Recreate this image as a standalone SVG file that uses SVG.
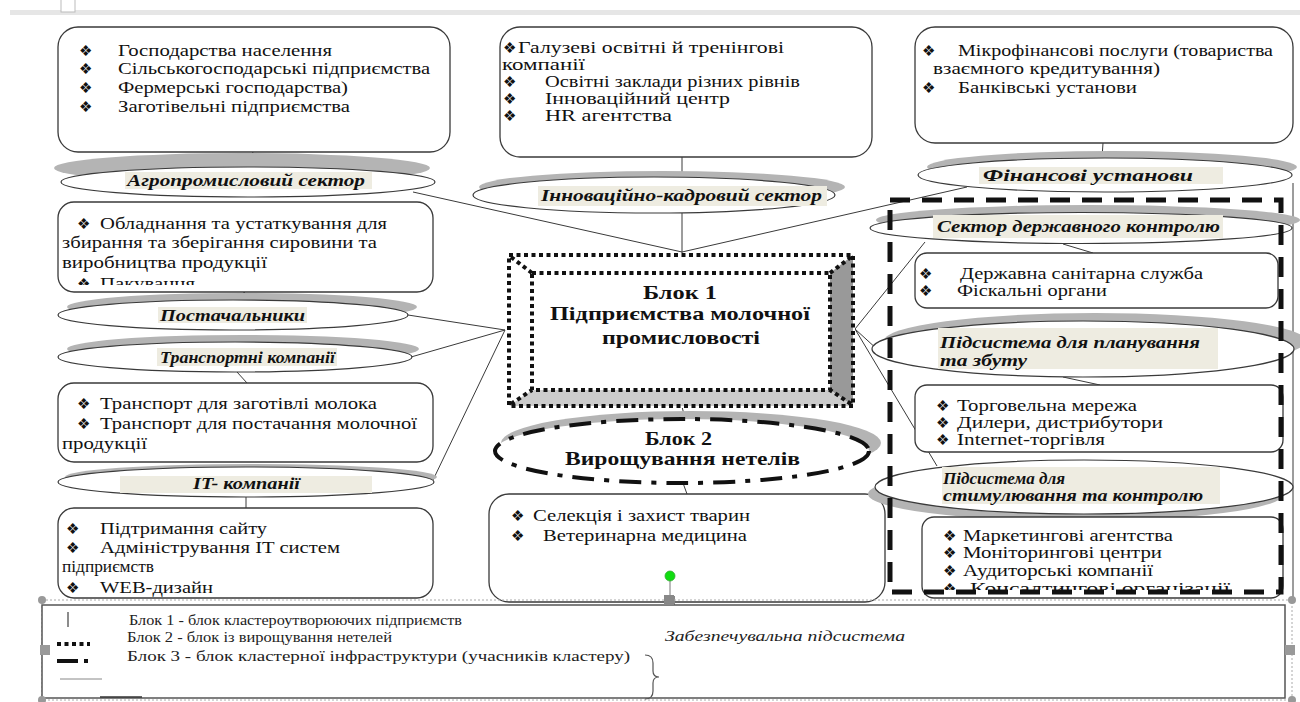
<svg xmlns="http://www.w3.org/2000/svg" width="1300" height="702" viewBox="0 0 1300 702">
<style>
.box{fill:#fff;stroke:#3a3a3a;stroke-width:1.3}
.ell{fill:#fff;stroke:#3a3a3a;stroke-width:1.2}
.sh{fill:#b4b4b4}
.bg{fill:#eeece1}
.ln{stroke:#3a3a3a;stroke-width:1;fill:none}
.t{font-family:'Liberation Serif','Times New Roman',serif;font-size:16px;fill:#111}
.s{font-family:'Liberation Serif','Times New Roman',serif;font-size:16px;font-weight:bold;font-style:italic;fill:#111}
.h{font-family:'Liberation Serif','Times New Roman',serif;font-size:19px;font-weight:bold;fill:#111}
.b{font-family:'DejaVu Sans',sans-serif;font-size:15px;fill:#111}
.lg{font-family:'Liberation Serif','Times New Roman',serif;font-size:15px;fill:#222}
.dot{fill:none;stroke:#111;stroke-width:4;stroke-dasharray:4 3.5}
</style>
<defs>
<clipPath id="c1"><rect x="58" y="200" width="376" height="85"/></clipPath>
<clipPath id="c2"><rect x="920" y="515" width="364" height="75"/></clipPath>
</defs>
<rect width="1300" height="702" fill="#fff"/>
<rect x="10" y="10" width="1290" height="5" fill="#e6e6e6"/>
<rect x="61" y="-2" width="14" height="14" fill="#fff" stroke="#bbb"/>

<g id="connectors">
<line class="ln" x1="253" y1="152" x2="247" y2="167"/>
<line class="ln" x1="413" y1="192" x2="682" y2="252"/>
<line class="ln" x1="682" y1="157" x2="682" y2="177"/>
<line class="ln" x1="682" y1="213" x2="682" y2="253"/>
<line class="ln" x1="1103" y1="143" x2="1102" y2="158"/>
<line class="ln" x1="967" y1="187" x2="682" y2="252"/>
<line class="ln" x1="245" y1="292" x2="232" y2="300"/>
<line class="ln" x1="408" y1="315" x2="505" y2="330"/>
<line class="ln" x1="411" y1="357" x2="505" y2="330"/>
<line class="ln" x1="237" y1="372" x2="247" y2="383"/>
<line class="ln" x1="433" y1="480" x2="505" y2="330"/>
<line class="ln" x1="246" y1="497" x2="246" y2="508"/>
<line class="ln" x1="678" y1="392" x2="685" y2="418"/>
<line class="ln" x1="683" y1="483" x2="687" y2="494"/>
<line class="ln" x1="855" y1="329" x2="925" y2="242"/>
<line class="ln" x1="855" y1="329" x2="890" y2="361"/>
<line class="ln" x1="855" y1="329" x2="937" y2="466"/>
<line class="ln" x1="1063" y1="244" x2="1093" y2="253"/>
<line class="ln" x1="1063" y1="377" x2="1100" y2="385"/>
<line class="ln" x1="1067" y1="514" x2="1100" y2="517"/>
<line class="ln" x1="1293" y1="183" x2="1293" y2="597"/>
</g>

<g id="agro-box">
<rect class="box" x="58" y="27" width="392" height="125" rx="20"/>
<text class="b" x="79" y="56">❖</text><text class="t" x="118" y="56" textLength="214" lengthAdjust="spacingAndGlyphs">Господарства населення</text>
<text class="b" x="79" y="74">❖</text><text class="t" x="118" y="74" textLength="312" lengthAdjust="spacingAndGlyphs">Сільськогосподарські підприємства</text>
<text class="b" x="79" y="93">❖</text><text class="t" x="118" y="93" textLength="230" lengthAdjust="spacingAndGlyphs">Фермерські господарства)</text>
<text class="b" x="79" y="112">❖</text><text class="t" x="118" y="112" textLength="232" lengthAdjust="spacingAndGlyphs">Заготівельні підприємства</text>
</g>
<g id="agro-sector">
<ellipse class="sh" cx="242" cy="168" rx="188" ry="15"/>
<ellipse class="ell" cx="248" cy="182" rx="187" ry="15"/>
<rect class="bg" x="125" y="172" width="247" height="17"/>
<text class="s" x="127" y="186" textLength="238" lengthAdjust="spacingAndGlyphs">Агропромисловий сектор</text>
</g>

<g id="innov-box">
<rect class="box" x="500" y="27" width="372" height="130" rx="20"/>
<text class="b" x="503" y="53">❖</text><text class="t" x="518" y="53" textLength="266" lengthAdjust="spacingAndGlyphs">Галузеві освітні й тренінгові</text>
<text class="t" x="502" y="70" textLength="83" lengthAdjust="spacingAndGlyphs">компанії</text>
<text class="b" x="503" y="87">❖</text><text class="t" x="545" y="87" textLength="255" lengthAdjust="spacingAndGlyphs">Освітні заклади різних рівнів</text>
<text class="b" x="503" y="104">❖</text><text class="t" x="545" y="104" textLength="185" lengthAdjust="spacingAndGlyphs">Інноваційний центр</text>
<text class="b" x="503" y="121">❖</text><text class="t" x="545" y="121" textLength="127" lengthAdjust="spacingAndGlyphs">HR агентства</text>
</g>
<g id="innov-sector">
<ellipse class="sh" cx="662" cy="187" rx="183" ry="16"/>
<ellipse class="ell" cx="654" cy="195" rx="181" ry="18"/>
<rect class="bg" x="538" y="186" width="289" height="20"/>
<text class="s" x="541" y="201" textLength="281" lengthAdjust="spacingAndGlyphs">Інноваційно-кадровий  сектор</text>
</g>

<g id="finance-box">
<rect class="box" x="915" y="27" width="378" height="116" rx="20"/>
<text class="b" x="922" y="56">❖</text><text class="t" x="958" y="56" textLength="315" lengthAdjust="spacingAndGlyphs">Мікрофінансові послуги (товариства</text>
<text class="t" x="933" y="74" textLength="227" lengthAdjust="spacingAndGlyphs">взаємного кредитування)</text>
<text class="b" x="922" y="93">❖</text><text class="t" x="958" y="93" textLength="179" lengthAdjust="spacingAndGlyphs">Банківські установи</text>
</g>
<g id="finance-sector">
<ellipse class="sh" cx="1112" cy="167" rx="185" ry="16"/>
<ellipse class="ell" cx="1105" cy="175" rx="187" ry="17"/>
<rect class="bg" x="979" y="167" width="244" height="17"/>
<text class="s" x="983" y="181" textLength="210" lengthAdjust="spacingAndGlyphs">Фінансові установи</text>
</g>

<g id="supplier-box">
<rect class="box" x="58" y="202" width="375" height="90" rx="16"/>
<g clip-path="url(#c1)">
<text class="b" x="77" y="229">❖</text><text class="t" x="100" y="229" textLength="287" lengthAdjust="spacingAndGlyphs">Обладнання та устаткування для</text>
<text class="t" x="62" y="248" textLength="315" lengthAdjust="spacingAndGlyphs">збирання та зберігання сировини та</text>
<text class="t" x="62" y="268" textLength="205" lengthAdjust="spacingAndGlyphs">виробництва продукції</text>
<text class="b" x="77" y="289">❖</text><text class="t" x="100" y="289" textLength="95" lengthAdjust="spacingAndGlyphs">Пакування</text>
</g>
</g>
<g id="supplier-sector">
<ellipse class="sh" cx="242" cy="307" rx="175" ry="14"/>
<ellipse class="ell" cx="233" cy="315" rx="175" ry="15"/>
<rect class="bg" x="158" y="307" width="149" height="16"/>
<text class="s" x="160" y="321" textLength="145" lengthAdjust="spacingAndGlyphs">Постачальники</text>
</g>
<g id="transport-sector">
<ellipse class="sh" cx="243" cy="349" rx="176" ry="14"/>
<ellipse class="ell" cx="235" cy="357" rx="177" ry="15"/>
<rect class="bg" x="157" y="348" width="180" height="18"/>
<text class="s" x="160" y="363" textLength="175" lengthAdjust="spacingAndGlyphs">Транспортні компанії</text>
</g>
<g id="transport-box">
<rect class="box" x="58" y="383" width="375" height="79" rx="16"/>
<text class="b" x="77" y="409">❖</text><text class="t" x="100" y="409" textLength="277" lengthAdjust="spacingAndGlyphs">Транспорт для заготівлі молока</text>
<text class="b" x="77" y="429">❖</text><text class="t" x="100" y="429" textLength="317" lengthAdjust="spacingAndGlyphs">Транспорт для постачання молочної</text>
<text class="t" x="62" y="449" textLength="85" lengthAdjust="spacingAndGlyphs">продукції</text>
</g>
<g id="it-sector">
<ellipse class="sh" cx="251" cy="477" rx="186" ry="13"/>
<ellipse class="ell" cx="246" cy="482" rx="188" ry="15"/>
<rect class="bg" x="120" y="476" width="252" height="17"/>
<text class="s" x="193" y="489" textLength="107" lengthAdjust="spacingAndGlyphs">IT- компанії</text>
</g>
<g id="it-box">
<rect class="box" x="58" y="508" width="375" height="90" rx="16"/>
<text class="b" x="66" y="534">❖</text><text class="t" x="100" y="534" textLength="167" lengthAdjust="spacingAndGlyphs">Підтримання сайту</text>
<text class="b" x="66" y="553">❖</text><text class="t" x="100" y="553" textLength="240" lengthAdjust="spacingAndGlyphs">Адміністрування IT систем</text>
<text class="t" x="62" y="572" textLength="92" lengthAdjust="spacingAndGlyphs">підприємств</text>
<text class="b" x="66" y="593">❖</text><text class="t" x="100" y="593" textLength="113" lengthAdjust="spacingAndGlyphs">WEB-дизайн</text>
</g>

<g id="block1">
<rect x="507" y="253" width="348" height="155" fill="#fff"/>
<polygon points="830,273 853,255 853,406 830,390" fill="#999"/>
<polygon points="509,406 532,390 830,390 853,406" fill="#ccc"/>
<rect class="dot" x="509" y="255" width="344" height="151"/>
<rect class="dot" x="532" y="273" width="298" height="117"/>
<line class="dot" x1="511" y1="257" x2="532" y2="273"/>
<line class="dot" x1="851" y1="257" x2="830" y2="273"/>
<line class="dot" x1="511" y1="404" x2="532" y2="390"/>
<line class="dot" x1="851" y1="404" x2="830" y2="390"/>
<text class="h" x="643" y="299" textLength="74" lengthAdjust="spacingAndGlyphs">Блок 1</text>
<text class="h" x="550" y="320" textLength="260" lengthAdjust="spacingAndGlyphs">Підприємства молочної</text>
<text class="h" x="602" y="344" textLength="158" lengthAdjust="spacingAndGlyphs">промисловості</text>
</g>

<g id="block2">
<ellipse class="sh" cx="691" cy="443" rx="190" ry="32"/>
<ellipse cx="682" cy="451" rx="187" ry="32" fill="#fff" stroke="#111" stroke-width="4" stroke-dasharray="22 10 5 10"/>
<text class="h" x="645" y="445" font-size="17" textLength="67" lengthAdjust="spacingAndGlyphs">Блок 2</text>
<text class="h" x="565" y="465" textLength="235" lengthAdjust="spacingAndGlyphs">Вирощування нетелів</text>
</g>

<g id="vet-box">
<rect class="box" x="489" y="494" width="396" height="108" rx="20"/>
<text class="b" x="511" y="521">❖</text><text class="t" x="533" y="521" textLength="217" lengthAdjust="spacingAndGlyphs">Селекція і  захист тварин</text>
<text class="b" x="511" y="541">❖</text><text class="t" x="543" y="541" textLength="204" lengthAdjust="spacingAndGlyphs">Ветеринарна медицина</text>
<line x1="670" y1="580" x2="670" y2="598" stroke="#777" stroke-width="1"/>
<circle cx="670" cy="576" r="5" fill="#11dd11" stroke="#3a3" stroke-width="0.8"/>
<rect x="665" y="596" width="10" height="10" fill="#888"/>
</g>

<g id="gov-sector">
<ellipse class="sh" cx="1088" cy="220" rx="212" ry="15"/>
<ellipse class="ell" cx="1081" cy="228" rx="211" ry="15.5"/>
<rect class="bg" x="933" y="215" width="290" height="23"/>
<text class="s" x="937" y="232" textLength="283" lengthAdjust="spacingAndGlyphs">Сектор державного контролю</text>
</g>
<g id="gov-box">
<rect class="box" x="915" y="253" width="363" height="55" rx="12"/>
<text class="b" x="919" y="279">❖</text><text class="t" x="960" y="279" textLength="243" lengthAdjust="spacingAndGlyphs">Державна санітарна служба</text>
<text class="b" x="919" y="296">❖</text><text class="t" x="957" y="296" textLength="150" lengthAdjust="spacingAndGlyphs">Фіскальні органи</text>
</g>
<g id="planning-sector">
<ellipse class="sh" cx="1095" cy="341" rx="211" ry="28"/>
<ellipse class="ell" cx="1083" cy="349" rx="211" ry="28"/>
<rect class="bg" x="938" y="328" width="280" height="41"/>
<text class="s" x="940" y="348" textLength="260" lengthAdjust="spacingAndGlyphs">Підсистема для планування</text>
<text class="s" x="940" y="366" textLength="87" lengthAdjust="spacingAndGlyphs">та збуту</text>
</g>
<g id="sales-box">
<rect class="box" x="915" y="385" width="368" height="67" rx="12"/>
<text class="b" x="936" y="411">❖</text><text class="t" x="957" y="411" textLength="180" lengthAdjust="spacingAndGlyphs">Торговельна мережа</text>
<text class="b" x="936" y="428">❖</text><text class="t" x="957" y="428" textLength="206" lengthAdjust="spacingAndGlyphs">Дилери, дистрибутори</text>
<text class="b" x="936" y="445">❖</text><text class="t" x="957" y="445" textLength="148" lengthAdjust="spacingAndGlyphs">Internet-торгівля</text>
</g>
<g id="stim-sector">
<ellipse class="sh" cx="1076" cy="494" rx="208" ry="27"/>
<ellipse class="ell" cx="1084" cy="487" rx="209" ry="27"/>
<rect class="bg" x="942" y="467" width="278" height="37"/>
<text class="s" x="943" y="484" textLength="122" lengthAdjust="spacingAndGlyphs">Підсистема для</text>
<text class="s" x="943" y="501" textLength="260" lengthAdjust="spacingAndGlyphs">стимулювання та контролю</text>
</g>
<g id="marketing-box">
<rect class="box" x="922" y="517" width="361" height="81" rx="12"/>
<g clip-path="url(#c2)">
<text class="b" x="943" y="541">❖</text><text class="t" x="963" y="541" textLength="210" lengthAdjust="spacingAndGlyphs">Маркетингові агентства</text>
<text class="b" x="943" y="558">❖</text><text class="t" x="963" y="558" textLength="199" lengthAdjust="spacingAndGlyphs">Моніторингові центри</text>
<text class="b" x="943" y="576">❖</text><text class="t" x="963" y="576" textLength="190" lengthAdjust="spacingAndGlyphs">Аудиторські компанії</text>
<text class="b" x="943" y="594">❖</text><text class="t" x="970" y="594" textLength="260" lengthAdjust="spacingAndGlyphs">Консалтингові організації</text>
</g>
</g>

<g id="block3">
<rect x="890" y="200" width="391" height="392" fill="none" stroke="#111" stroke-width="5" stroke-dasharray="20 12"/>
</g>

<g id="legend">
<rect x="42" y="600" width="1250" height="100" fill="none" stroke="#aaa" stroke-width="1" stroke-dasharray="2 2"/>
<rect x="42" y="605" width="1243" height="93" fill="#fff" stroke="#555" stroke-width="1.5"/>
<line x1="68" y1="612" x2="68" y2="627" stroke="#666" stroke-width="1.5"/>
<line x1="57" y1="644" x2="90" y2="644" stroke="#111" stroke-width="4" stroke-dasharray="4 3.5"/>
<line x1="57" y1="661" x2="78" y2="661" stroke="#111" stroke-width="4"/>
<line x1="84" y1="661" x2="88" y2="661" stroke="#111" stroke-width="4"/>
<line x1="60" y1="679" x2="102" y2="679" stroke="#888" stroke-width="1"/>
<line x1="100" y1="697" x2="142" y2="697" stroke="#333" stroke-width="1.5"/>
<text class="lg" x="129" y="625" textLength="333" lengthAdjust="spacingAndGlyphs">Блок 1 - блок кластероутворюючих підприємств</text>
<text class="lg" x="127" y="642" textLength="265" lengthAdjust="spacingAndGlyphs">Блок 2 - блок із вирощування нетелей</text>
<text class="lg" x="127" y="661" textLength="503" lengthAdjust="spacingAndGlyphs">Блок 3 - блок кластерної інфраструктури (учасників кластеру)</text>
<text class="lg" x="665" y="641" font-style="italic" textLength="240" lengthAdjust="spacingAndGlyphs">Забезпечувальна підсистема</text>
<path d="M645,655 q8,0 8,8 v8 q0,6 6,6 q-6,0 -6,6 v8 q0,8 -8,8" fill="none" stroke="#555" stroke-width="1.2"/>
<circle cx="42" cy="600" r="4" fill="#999"/>
<circle cx="1292" cy="600" r="4" fill="#999"/>
<circle cx="42" cy="700" r="4" fill="#999"/>
<circle cx="1292" cy="700" r="4" fill="#999"/>
<rect x="664" y="595" width="10" height="10" fill="#888"/>
<rect x="40" y="645" width="10" height="10" fill="#999"/>
<rect x="1285" y="645" width="10" height="10" fill="#999"/>
</g>
</svg>
